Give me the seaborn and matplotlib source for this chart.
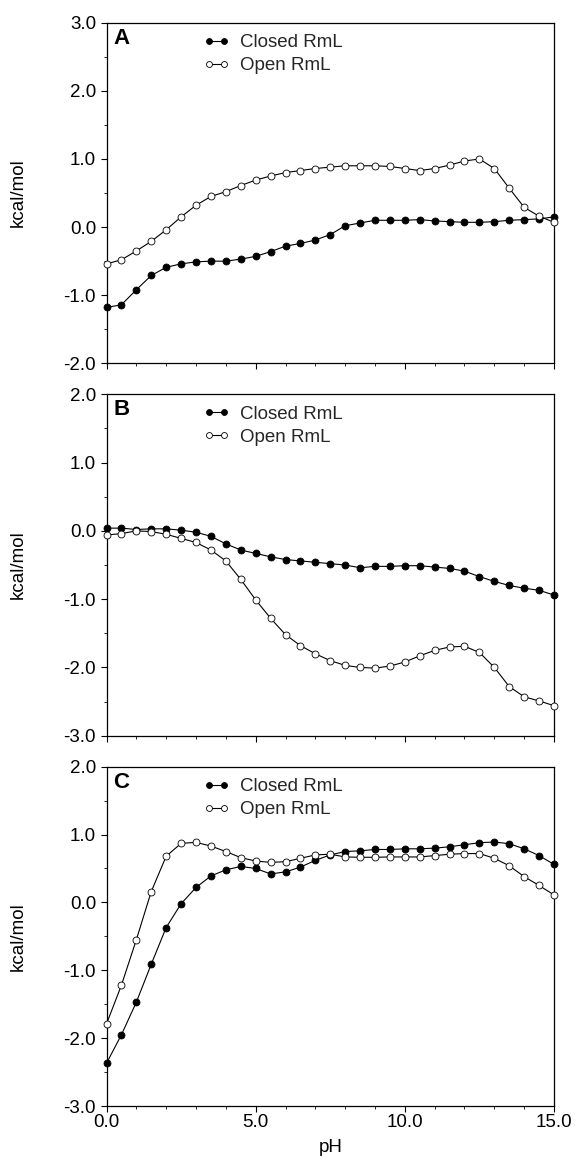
import numpy as np
import pandas as pd
import matplotlib
matplotlib.use("Agg")
import matplotlib.pyplot as plt
import seaborn as sns
from matplotlib.ticker import MultipleLocator, FormatStrFormatter

# ---------------- data ----------------
ph = [0.0, 0.5, 1.0, 1.5, 2.0, 2.5, 3.0, 3.5, 4.0, 4.5, 5.0, 5.5, 6.0, 6.5, 7.0, 7.5,
      8.0, 8.5, 9.0, 9.5, 10.0, 10.5, 11.0, 11.5, 12.0, 12.5, 13.0, 13.5, 14.0, 14.5, 15.0]

a_closed = [-1.18, -1.14, -0.92, -0.71, -0.59, -0.54, -0.51, -0.50, -0.50, -0.47, -0.43, -0.36,
            -0.28, -0.24, -0.19, -0.11, 0.02, 0.06, 0.10, 0.10, 0.10, 0.11, 0.09, 0.08, 0.07,
            0.07, 0.08, 0.10, 0.11, 0.12, 0.15]
a_open = [-0.54, -0.48, -0.35, -0.21, -0.04, 0.15, 0.32, 0.45, 0.52, 0.61, 0.69, 0.75, 0.80,
          0.83, 0.86, 0.88, 0.90, 0.90, 0.90, 0.89, 0.86, 0.83, 0.86, 0.91, 0.97, 1.00, 0.86,
          0.57, 0.29, 0.16, 0.07]

b_closed = [0.04, 0.04, 0.02, 0.03, 0.03, 0.01, -0.02, -0.08, -0.19, -0.28, -0.33, -0.38, -0.42,
            -0.44, -0.46, -0.48, -0.50, -0.54, -0.52, -0.52, -0.51, -0.51, -0.53, -0.55, -0.59,
            -0.67, -0.74, -0.80, -0.84, -0.87, -0.94]
b_open = [-0.06, -0.04, 0.00, -0.01, -0.05, -0.11, -0.17, -0.28, -0.44, -0.71, -1.01, -1.28,
          -1.52, -1.68, -1.80, -1.90, -1.97, -2.00, -2.01, -1.98, -1.92, -1.83, -1.75, -1.70,
          -1.69, -1.78, -2.00, -2.28, -2.43, -2.49, -2.56]

c_closed = [-2.37, -1.95, -1.47, -0.91, -0.37, -0.02, 0.22, 0.39, 0.48, 0.53, 0.50, 0.42, 0.45,
            0.52, 0.62, 0.70, 0.75, 0.76, 0.78, 0.78, 0.79, 0.79, 0.80, 0.82, 0.85, 0.88, 0.89,
            0.865, 0.79, 0.69, 0.56]
c_open = [-1.79, -1.22, -0.55, 0.16, 0.68, 0.87, 0.885, 0.83, 0.75, 0.66, 0.61, 0.59, 0.60,
          0.65, 0.70, 0.71, 0.67, 0.665, 0.665, 0.67, 0.67, 0.67, 0.69, 0.71, 0.72, 0.72, 0.65,
          0.54, 0.38, 0.25, 0.11]

panel_labels = ["A", "B", "C"]
series_names = ["Closed RmL", "Open RmL"]
y_limits = [(-2.0, 3.0), (-3.0, 2.0), (-3.0, 2.0)]
x_ticks = [0.0, 5.0, 10.0, 15.0]

panels = [(a_closed, a_open), (b_closed, b_open), (c_closed, c_open)]

# ---------------- style ----------------
sns.set_theme(style="ticks")
plt.rcParams["font.family"] = ["Liberation Sans", "DejaVu Sans"]
plt.rcParams["axes.linewidth"] = 0.9
plt.rcParams["axes.edgecolor"] = "black"

FS = 13.5

fig = plt.figure(figsize=(5.76, 11.59), dpi=100)
positions = [
    [0.1849, 0.6865, 0.7769, 0.2939],
    [0.1849, 0.3652, 0.7769, 0.2946],
    [0.1849, 0.0457, 0.7769, 0.2928],
]

for i, (pos, (closed, opn)) in enumerate(zip(positions, panels)):
    ax = fig.add_axes(pos)
    df = pd.DataFrame({"pH": ph, "closed": closed, "open": opn})
    sns.lineplot(data=df, x="pH", y="closed", ax=ax, color="black", linewidth=0.8,
                 marker="o", markersize=5.0, markerfacecolor="black", markeredgecolor="black",
                 markeredgewidth=0.6, label=series_names[0], clip_on=False, zorder=3)
    sns.lineplot(data=df, x="pH", y="open", ax=ax, color="black", linewidth=0.8,
                 marker="o", markersize=5.0, markerfacecolor="white", markeredgecolor="black",
                 markeredgewidth=0.6, label=series_names[1], clip_on=False, zorder=4)
    ax.set_xlim(0, 15)
    ax.set_ylim(*y_limits[i])
    ax.yaxis.set_major_locator(MultipleLocator(1.0))
    ax.yaxis.set_minor_locator(MultipleLocator(0.5))
    ax.yaxis.set_major_formatter(FormatStrFormatter("%.1f"))
    ax.set_xticks(x_ticks)
    ax.xaxis.set_minor_locator(MultipleLocator(1.0))
    ax.xaxis.set_major_formatter(FormatStrFormatter("%.1f"))
    ax.tick_params(axis="both", which="major", direction="out", length=4.5, width=0.8,
                   labelsize=FS, color="black", labelcolor="black")
    ax.tick_params(axis="y", which="major", pad=3)
    ax.tick_params(axis="x", which="major", pad=1.5)
    ax.tick_params(axis="both", which="minor", direction="out", length=2.5, width=0.6,
                   color="black")
    for s in ax.spines.values():
        s.set_visible(True)
        s.set_color("black")
        s.set_linewidth(0.9)
    ax.set_ylabel("kcal/mol", fontsize=FS, color="black")
    ax.yaxis.set_label_coords(-0.178, 0.5)
    if i < 2:
        ax.set_xlabel("")
        ax.tick_params(axis="x", labelbottom=False)
    else:
        ax.set_xlabel("pH", fontsize=FS, color="black")
        ax.xaxis.set_label_coords(0.5, -0.098)
    ax.text(0.015, 0.985, panel_labels[i], transform=ax.transAxes, ha="left", va="top",
            fontsize=16, fontweight="bold", color="black")
    ax.legend(loc="upper left", bbox_to_anchor=(0.2156, 0.966), frameon=False, numpoints=2,
              handlelength=1.4, handletextpad=0.6, borderpad=0, borderaxespad=0,
              labelspacing=0.3, fontsize=FS, markerscale=0.85)
    ax.grid(False)

fig.savefig("out.png", dpi=100)
